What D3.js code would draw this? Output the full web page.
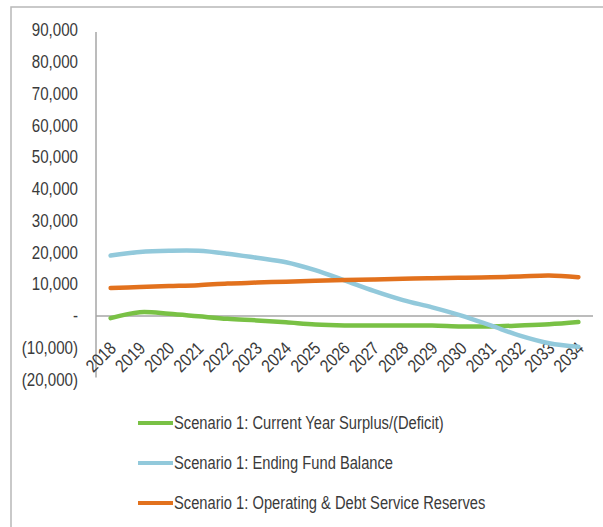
<html>
<head>
    <script src="https://d3js.org/d3.v7.min.js"></script>
    <meta charset="utf-8">
    <style>
	body{
	    margin: 0;
	    background-color: #ffffff;
	}
	.axis text{
	    fill: #3a3a3a;
	    font-family: "Liberation Sans", sans-serif;
	    font-size: 18px;
	}
	.line{
	    fill: none;
	    stroke-width: 4.5;
	    stroke-linecap: round;
	}
	.legend text{
	    fill: #3a3a3a;
	    font-family: "Liberation Sans", sans-serif;
	    font-size: 17.5px;
	}
    </style>
</head>
<body>

<script>
// *** Data
var years = ["2018", "2019", "2020", "2021", "2022", "2023", "2024", "2025", "2026",
	     "2027", "2028", "2029", "2030", "2031", "2032", "2033", "2034"];

var surplus = [-700, 1200, 700, -100, -900, -1400, -2000, -2700, -3000,
	       -3000, -3000, -3000, -3300, -3300, -3000, -2600, -1900];
var fundBalance = [19000, 20100, 20500, 20500, 19600, 18300, 16900, 14400, 11200,
		   7900, 5000, 2700, 100, -3000, -6200, -8600, -9700];
var reserves = [8800, 9100, 9400, 9700, 10200, 10500, 10800, 11100, 11300,
		11500, 11700, 11900, 12000, 12200, 12400, 12700, 12200];

var yTicks = [-20000, -10000, 0, 10000, 20000, 30000, 40000, 50000, 60000, 70000, 80000, 90000];

var seriesNames = ["Scenario 1: Current Year Surplus/(Deficit)",
		   "Scenario 1: Ending Fund Balance",
		   "Scenario 1: Operating & Debt Service Reserves"];

// color: green, blue, orange
var colorset = ["#79c145", "#92c9db", "#e2711d"];

// ** SVG canvas parameters
var width = 603;
var height = 527;
var plot = { left: 96, right: 593, top: 30, bottom: 379.5 };

// the original uses a narrow (Calibri-like) face; squeeze Liberation Sans to match
var squeeze = 0.84;
function narrow(sel){
    sel.each(function(){
	var len = this.getComputedTextLength();
	d3.select(this)
	    .attr("textLength", len * squeeze)
	    .attr("lengthAdjust", "spacingAndGlyphs");
    });
}

var svg = d3.select("body").append("svg")
    .attr("width", width)
    .attr("height", height);

// outer frame (only top and left edges visible)
svg.append("path")
    .attr("d", "M11," + height + "V7H" + width)
    .attr("fill", "none")
    .attr("stroke", "#b8b8b8")
    .attr("stroke-width", 1.5);

// *** Scale setting
var xScale = d3.scaleBand().domain(years).range([plot.left, plot.right]);
var yScale = d3.scaleLinear().domain([-20000, 90000]).range([plot.bottom, plot.top]);

function xPos(d){ return xScale(d) + xScale.bandwidth() / 2; }

// *** Y axis
var yFormat = function(v){
    if (v === 0) return "-";
    var s = d3.format(",")(Math.abs(v));
    return v < 0 ? "(" + s + ")" : s;
};
var yAxis = svg.append("g")
    .attr("class", "axis")
    .attr("transform", "translate(" + plot.left + ",0)")
    .call(d3.axisLeft(yScale).tickValues(yTicks).tickFormat(yFormat).tickSize(0).tickPadding(18));
yAxis.select(".domain")
    .attr("stroke", "#a6a6a6")
    .attr("stroke-width", 1.5)
    .attr("d", "M0," + (plot.top + 2) + "V" + (plot.bottom - 2));
yAxis.selectAll("text").call(narrow);

// zero line
svg.append("line")
    .attr("x1", plot.left)
    .attr("x2", plot.right)
    .attr("y1", yScale(0))
    .attr("y2", yScale(0))
    .attr("stroke", "#a6a6a6")
    .attr("stroke-width", 1.5);

// *** X labels, rotated
var xAxis = svg.append("g").attr("class", "axis");
xAxis.selectAll("text")
    .data(years)
    .enter().append("text")
    .attr("transform", function(d){ return "translate(" + (xPos(d) + 2) + "," + 345 + ") rotate(-45)"; })
    .attr("text-anchor", "end")
    .attr("dy", "0.35em")
    .text(function(d){ return d; })
    .call(narrow);

// *** Lines (series order: green, blue, orange on top)
var allSeries = [surplus, fundBalance, reserves];
var lineGen = d3.line()
    .x(function(d, i){ return xPos(years[i]); })
    .y(function(d){ return yScale(d); })
    .curve(d3.curveCatmullRom.alpha(0.5));

allSeries.forEach(function(s, k){
    svg.append("path")
	.attr("class", "line")
	.attr("stroke", colorset[k])
	.attr("d", lineGen(s));
});

// *** Legend
var legend = svg.append("g").attr("class", "legend");
var legendY = [423, 463, 503];
seriesNames.forEach(function(name, i){
    legend.append("line")
	.attr("x1", 138)
	.attr("x2", 173)
	.attr("y1", legendY[i])
	.attr("y2", legendY[i])
	.attr("stroke", colorset[i])
	.attr("stroke-width", 4);
    legend.append("text")
	.attr("x", 174)
	.attr("y", legendY[i])
	.attr("dy", "0.35em")
	.text(name)
	.call(narrow);
});
</script>
</body>
</html>
